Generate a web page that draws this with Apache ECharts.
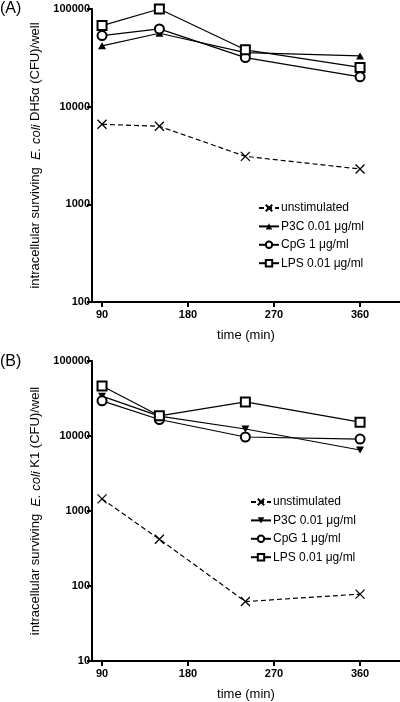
<!DOCTYPE html>
<html>
<head>
<meta charset="utf-8">
<script src="https://cdn.jsdelivr.net/npm/echarts@6/dist/echarts.min.js"></script>
<style>html,body{margin:0;padding:0;background:#fff}#c{width:400px;height:702px}</style>
</head>
<body>
<div id="c"></div>
<script>
var times = [90, 150, 240, 360];
var xTicks = [90, 180, 270, 360];
var seriesNames = ['unstimulated', 'P3C 0.01 \u03bcg/ml', 'CpG 1 \u03bcg/ml', 'LPS 0.01 \u03bcg/ml'];

// Panel A: E. coli DH5α
var aUnstim = [6600, 6300, 3100, 2300];
var aP3C = [42000, 56500, 35800, 33100];
var aCpG = [53400, 62500, 31800, 20200];
var aLPS = [67600, 100000, 38200, 25200];

// Panel B: E. coli K1
var bUnstim = [1450, 420, 62, 78];
var bP3C = [34000, 18400, 12400, 6500];
var bCpG = [29400, 16600, 9700, 9100];
var bLPS = [46500, 18600, 28500, 15300];

var aTicks = [100, 1000, 10000, 100000];
var bTicks = [10, 100, 1000, 10000, 100000];

function pairs(v) { return times.map(function (t, i) { return [t, v[i]]; }); }

var crossPath = 'path://M0,0L10,10M0,10L10,0';
var FONT = 'Liberation Sans, Arial, sans-serif';

function mk(prefix, idx, vals) {
  var specs = [
    { sym: crossPath, dash: [5, 3], size: 9 },
    { sym: 'triangle', dash: 'solid', size: [8, 7] },
    { sym: 'emptyCircle', dash: 'solid', size: 9 },
    { sym: 'emptyRect', dash: 'solid', size: 9 }
  ];
  var out = [];
  vals.forEach(function (v, k) {
    var s = specs[k];
    var o = {
      type: 'line', name: prefix + seriesNames[k], xAxisIndex: idx, yAxisIndex: idx,
      data: pairs(v), symbol: s.sym, symbolSize: s.size, showAllSymbol: true,
      lineStyle: { color: '#000', width: 1.2, type: s.dash },
      itemStyle: { color: '#000', borderColor: '#000', borderWidth: 1 },
      emphasis: { disabled: true }, animation: false, z: 3 + k
    };
    if (k === 0) o.itemStyle.borderWidth = 1.3;
    if (k === 1) o.itemStyle.borderWidth = 0;
    if (k === 1 && idx === 1) o.symbolRotate = 180;
    out.push(o);
  });
  return out;
}

var xAxisBase = function (idx) {
  return {
    type: 'value', gridIndex: idx, min: 79.5, max: 401.8,
    name: 'time (min)', nameLocation: 'middle', nameGap: 27,
    nameTextStyle: { fontFamily: FONT, fontSize: 13, color: '#000' },
    axisLine: { lineStyle: { color: '#000', width: 2 } },
    axisTick: { show: true, length: 5, lineStyle: { color: '#000', width: 2 }, customValues: xTicks },
    axisLabel: { customValues: xTicks, fontFamily: FONT, fontSize: 11, fontWeight: 'bold', color: '#000', margin: 7 },
    splitLine: { show: false }
  };
};

var yAxisBase = function (idx, mn, ticks, strain) {
  return {
    type: 'log', logBase: 10, gridIndex: idx, min: mn, max: 100000,
    name: '{n|intracellular surviving  }{i|E. coli}{n| ' + strain + ' (CFU)/well}',
    nameLocation: 'middle', nameGap: 45, nameRotate: 90,
    nameTextStyle: { fontFamily: FONT, fontSize: 13, color: '#000',
      rich: { n: { fontFamily: FONT, fontSize: 13, color: '#000' }, i: { fontFamily: FONT, fontSize: 13, fontStyle: 'italic', color: '#000' } } },
    axisLine: { show: true, lineStyle: { color: '#000', width: 2 } },
    axisTick: { show: true, length: 5, lineStyle: { color: '#000', width: 2 } },
    axisLabel: { fontFamily: FONT, fontSize: 11, fontWeight: 'bold', color: '#000', margin: 2,
      formatter: function (v) { return ticks.indexOf(Math.round(v)) >= 0 ? String(Math.round(v)) : ''; } },
    splitLine: { show: false }, minorTick: { show: false }
  };
};

function legendFor(prefix, left, top, names) {
  return {
    orient: 'vertical', left: left, top: top, padding: 0, itemGap: 6.4,
    itemWidth: 20, itemHeight: 8,
    data: names.map(function (n) { return prefix + n; }),
    formatter: function (n) { return n.replace(/^[AB]:/, ''); },
    textStyle: { fontFamily: FONT, fontSize: 12, color: '#000', padding: [0, 0, 0, -3], lineHeight: 11 },
    selectedMode: false
  };
}

var chart = echarts.init(document.getElementById('c'), null, { renderer: 'canvas' });
chart.setOption({
  backgroundColor: '#fff',
  animation: false,
  title: [
    { text: '(A)', left: 0, top: 1, padding: 0, textStyle: { fontFamily: FONT, fontSize: 16, fontWeight: 'normal', color: '#000' } },
    { text: '(B)', left: 0, top: 354, padding: 0, textStyle: { fontFamily: FONT, fontSize: 16, fontWeight: 'normal', color: '#000' } }
  ],
  grid: [
    { left: 92, top: 9, right: 0, height: 293, containLabel: false },
    { left: 92, top: 361, right: 0, height: 301, containLabel: false }
  ],
  xAxis: [xAxisBase(0), xAxisBase(1)],
  yAxis: [yAxisBase(0, 100, aTicks, 'DH5\u03b1'), yAxisBase(1, 10, bTicks, 'K1')],
  legend: [legendFor('A:', 258, 202, seriesNames), legendFor('B:', 250, 496, seriesNames)],
  series: [].concat(mk('A:', 0, [aUnstim, aP3C, aCpG, aLPS]), mk('B:', 1, [bUnstim, bP3C, bCpG, bLPS]))
});
</script>
</body>
</html>
